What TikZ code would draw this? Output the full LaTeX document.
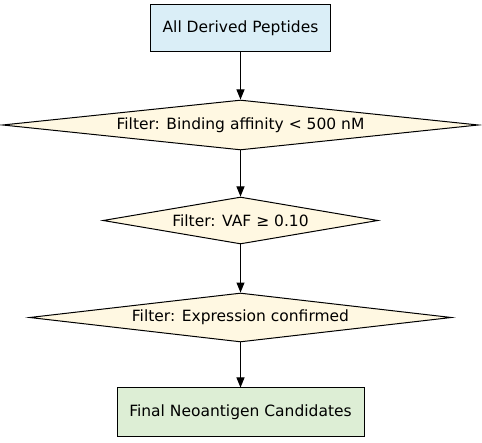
\documentclass[tikz,border=0pt]{standalone}
\usepackage{fontspec}
\setmainfont{DejaVu Sans}
\usetikzlibrary{shapes.geometric,arrows.meta}
\definecolor{startblue}{RGB}{218,238,247}
\definecolor{filteryellow}{RGB}{255,248,226}
\definecolor{endgreen}{RGB}{221,238,213}
\tikzset{
  box/.style={rectangle, draw, line width=1pt, inner sep=0pt, font=\fontsize{15.5}{18}\selectfont},
  filter/.style={diamond, draw, line width=1pt, inner sep=0pt, fill=filteryellow, font=\fontsize{15.5}{18}\selectfont},
  flow/.style={-{Triangle[length=10pt,width=8pt]}, line width=1pt}
}
\begin{document}
\begin{tikzpicture}[x=1pt,y=-1pt]
    \useasboundingbox (0,0) rectangle (482,443);

    \node[box, fill=startblue, minimum width=180pt, minimum height=47pt] (peptides) at (240.5,28.5) {All Derived Peptides};
    \node[filter, aspect=9.52, minimum width=476pt, minimum height=50pt] (binding) at (240.5,125) {Filter: Binding affinity < 500 nM};
    \node[filter, aspect=5.85, minimum width=275pt, minimum height=47pt] (vaf) at (240.5,220.5) {Filter: VAF ≥ 0.10};
    \node[filter, aspect=8.61, minimum width=422pt, minimum height=49pt] (expression) at (240.5,317.5) {Filter: Expression confirmed};
    \node[box, fill=endgreen, minimum width=247pt, minimum height=49pt] (final) at (240.5,412.5) {Final Neoantigen Candidates};

    \draw[flow] (peptides) -- (binding);
    \draw[flow] (binding) -- (vaf);
    \draw[flow] (vaf) -- (expression);
    \draw[flow] (expression) -- (final);
\end{tikzpicture}
\end{document}
